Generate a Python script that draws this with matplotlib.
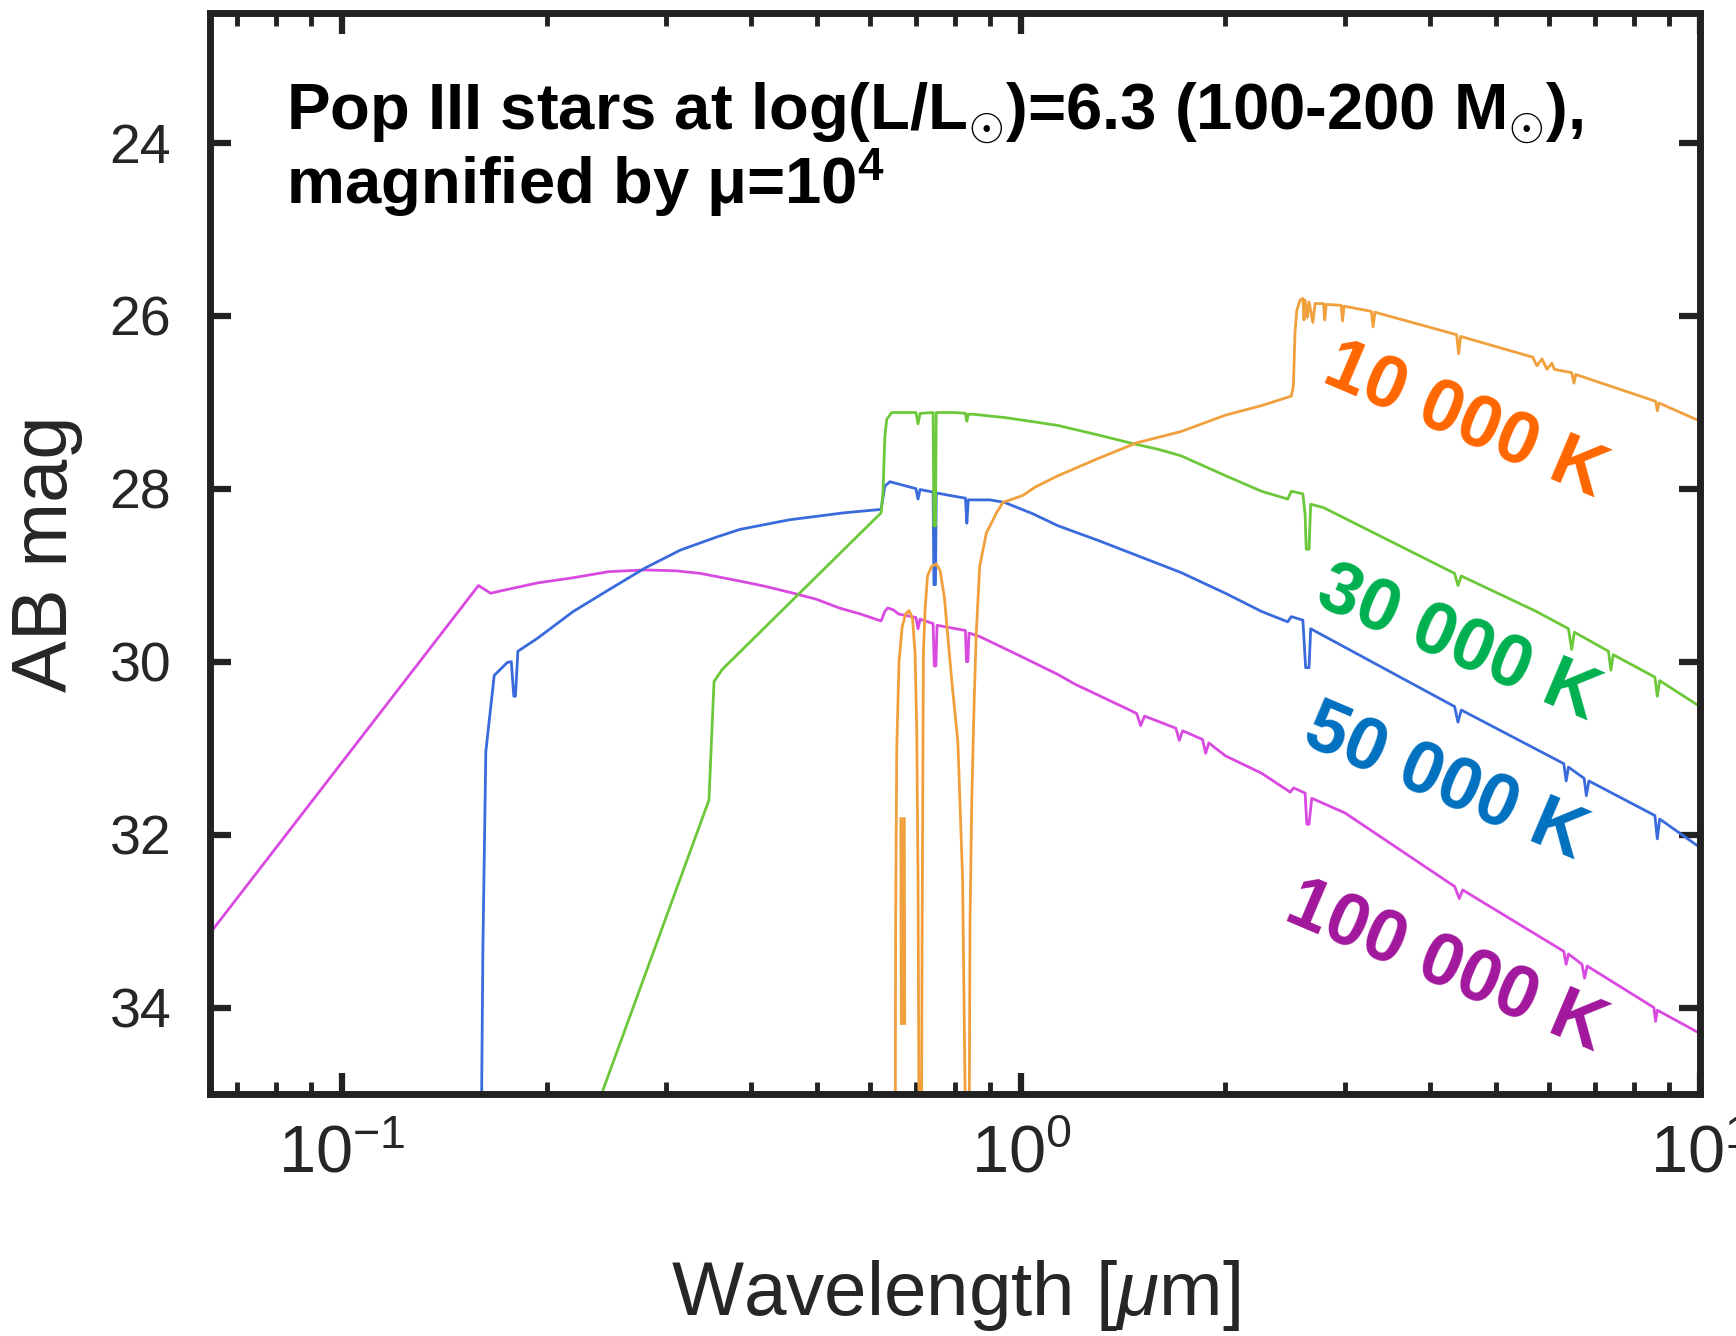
import numpy as np
import matplotlib
matplotlib.use('Agg')
import matplotlib.pyplot as plt
from matplotlib.ticker import LogLocator, FixedLocator

plt.rcParams['font.family'] = ['Liberation Sans', 'DejaVu Sans']
plt.rcParams['mathtext.fontset'] = 'custom'
plt.rcParams['mathtext.rm'] = 'Liberation Sans'
plt.rcParams['mathtext.it'] = 'Liberation Sans:italic'
plt.rcParams['mathtext.bf'] = 'Liberation Sans:bold'
plt.rcParams['axes.unicode_minus'] = False

# --- data (wavelength in micron, AB mag) ---
wl_100k = [0.0639, 0.1588, 0.1655, 0.1718, 0.194, 0.219, 0.247, 0.279, 0.31, 0.337, 0.386, 0.42,
           0.457, 0.50, 0.540, 0.58, 0.622, 0.630, 0.636, 0.648, 0.660, 0.700, 0.705, 0.710,
           0.742, 0.745, 0.749, 0.752, 0.828, 0.831, 0.835, 0.838, 0.869, 1.0,
           1.134, 1.2, 1.445, 1.48, 1.50, 1.52, 1.69, 1.71, 1.73, 1.85, 1.87, 1.89, 2.0,
           2.26, 2.47, 2.49, 2.52, 2.62, 2.635, 2.655, 2.68, 3.0,
           4.35, 4.42, 4.47, 6.3, 6.35, 6.4, 6.7, 6.76, 6.82, 8.55, 8.6, 8.65, 10.0]
mag_100k = [33.14, 29.12, 29.21, 29.18, 29.09, 29.03, 28.96, 28.94, 28.95, 28.98, 29.07, 29.13,
            29.20, 29.28, 29.38, 29.45, 29.53, 29.42, 29.38, 29.40, 29.45, 29.49, 29.62, 29.51,
            29.56, 30.05, 30.05, 29.58, 29.64, 30.00, 30.00, 29.67, 29.71, 29.94,
            30.15, 30.26, 30.56, 30.60, 30.74, 30.63, 30.77, 30.91, 30.80, 30.90, 31.06, 30.94, 31.09,
            31.29, 31.49, 31.51, 31.46, 31.52, 31.88, 31.88, 31.58, 31.75,
            32.60, 32.74, 32.64, 33.35, 33.50, 33.38, 33.50, 33.66, 33.52, 34.00, 34.16, 34.03, 34.30]

wl_50k = [0.1603, 0.1612, 0.1628, 0.1675, 0.1751, 0.1775, 0.1790, 0.1800, 0.1815,
          0.194, 0.219, 0.247, 0.279, 0.315, 0.356, 0.386, 0.456, 0.548, 0.622, 0.630, 0.641,
          0.700, 0.705, 0.710, 0.742, 0.744, 0.748, 0.750, 0.80, 0.828, 0.832, 0.836, 0.90,
          0.946, 1.04, 1.134, 1.3, 1.445, 1.72, 2.0, 2.26, 2.47, 2.50, 2.60, 2.625, 2.655, 2.67,
          4.35, 4.40, 4.45, 6.30, 6.35, 6.40, 6.75, 6.80, 6.86, 8.58, 8.65, 8.72, 10.0]
mag_50k = [35.5, 33.3, 31.04, 30.16, 30.01, 30.00, 30.40, 30.40, 29.88,
           29.73, 29.42, 29.17, 28.92, 28.71, 28.56, 28.47, 28.36, 28.28, 28.24, 27.97, 27.92,
           28.00, 28.12, 28.01, 28.04, 29.11, 29.11, 28.05, 28.09, 28.11, 28.40, 28.13, 28.13,
           28.16, 28.29, 28.43, 28.60, 28.74, 28.97, 29.21, 29.42, 29.54, 29.48, 29.52, 30.07, 30.07, 29.62,
           30.52, 30.70, 30.56, 31.18, 31.38, 31.22, 31.35, 31.55, 31.38, 31.78, 32.05, 31.82, 32.15]

wl_30k = [0.236, 0.241, 0.347, 0.350, 0.353, 0.363, 0.473, 0.622, 0.626, 0.630, 0.634, 0.645,
          0.700, 0.705, 0.710, 0.742, 0.744, 0.748, 0.750, 0.80, 0.828, 0.832, 0.836, 0.85,
          0.95, 1.05, 1.134, 1.3, 1.445, 1.6, 1.72, 2.0, 2.26, 2.47, 2.50, 2.60, 2.62, 2.63, 2.655,
          2.67, 2.79, 4.35, 4.40, 4.45, 5.74, 6.40, 6.47, 6.53, 7.33, 7.39, 7.45, 8.58, 8.65, 8.72, 10.0]
mag_30k = [35.3, 35.0, 31.60, 30.90, 30.23, 30.09, 29.20, 28.28, 28.05, 27.40, 27.20, 27.12,
           27.12, 27.25, 27.13, 27.12, 28.43, 28.43, 27.12, 27.12, 27.13, 27.22, 27.14, 27.14,
           27.18, 27.23, 27.27, 27.38, 27.47, 27.55, 27.62, 27.85, 28.03, 28.12, 28.03, 28.06, 28.30,
           28.70, 28.70, 28.18, 28.22, 28.98, 29.12, 29.01, 29.42, 29.62, 29.86, 29.66, 29.88, 30.10,
           29.92, 30.18, 30.40, 30.22, 30.52]

# nan breaks the 10 000 K spectrum where it drops out of the plot
wl_10k = [0.6525, 0.6535, 0.656, 0.661, 0.668, 0.676, 0.684, 0.692, 0.698, 0.702, 0.705, 0.708,
          0.713, 0.715, 0.718, 0.722, 0.728, 0.738, 0.750, 0.760, 0.771, 0.790, 0.807, 0.820, 0.830,
          0.838, 0.841, 0.846, 0.853, 0.859, 0.869, 0.889, 0.90, 0.92, 0.94, 1.005, 1.05, 1.134,
          1.3, 1.48, 1.72, 2.0, 2.26,
          2.50, 2.518, 2.532, 2.547, 2.576, 2.600, 2.610, 2.620, 2.640, 2.655, 2.690, 2.710,
          2.790, 2.800, 2.815, 2.96, 2.975, 2.99, 3.28, 3.30, 3.32, 4.38, 4.41, 4.44,
          5.67, 5.75, 5.85, 5.95, 6.05, 6.10, 6.47, 6.52, 6.56, 8.6, 8.65, 8.7, 10.0]
mag_10k = [36.0, 33.0, 31.0, 30.0, 29.6, 29.45, 29.41, 29.5, 29.9, 30.8, 32.5, 36.0,
           36.0, 33.0, 29.9, 29.4, 29.01, 28.90, 28.87, 28.95, 29.26, 30.2, 30.93, 32.5, 36.0,
           36.0, 33.0, 31.6, 30.44, 29.67, 28.90, 28.51, 28.43, 28.28, 28.16, 28.08, 27.98, 27.85,
           27.65, 27.47, 27.34, 27.15, 27.04,
           26.93, 26.81, 26.19, 25.94, 25.82, 25.80, 26.05, 25.82, 26.02, 25.84, 26.08, 25.86,
           25.86, 26.05, 25.87, 25.88, 26.06, 25.89, 25.95, 26.13, 25.96, 26.22, 26.44, 26.24,
           26.48, 26.58, 26.50, 26.62, 26.55, 26.62, 26.66, 26.78, 26.68, 26.99, 27.10, 27.01, 27.22]
# dense line forest drawn as a thick bar
wl_10k_forest = [0.669, 0.670]
mag_10k_forest = [31.8, 34.2]

labels = ['10 000 K', '30 000 K', '50 000 K', '100 000 K']
label_wl = [4.51, 4.41, 4.22, 4.23]
label_mag = [27.22, 29.80, 31.40, 33.53]
label_colors = ['#ff6600', '#00b050', '#0070c0', '#a2179c']

fig = plt.figure(figsize=(17.36, 13.36), dpi=100)
ax = fig.add_axes([0.121, 0.1811, 0.8583, 0.8092])

ax.plot(wl_100k, mag_100k, color='#d94ae0', lw=2)
ax.plot(wl_50k, mag_50k, color='#3a6bdc', lw=2)
ax.plot(wl_30k, mag_30k, color='#6cc83a', lw=2)
ax.plot(wl_10k, mag_10k, color='#f0a03c', lw=2)
ax.plot(wl_10k_forest, mag_10k_forest, color='#f0a03c', lw=4.5, solid_capstyle='butt')

ax.set_xscale('log')
ax.set_xlim(0.0639, 10)
ax.set_ylim(35, 22.5)
ax.yaxis.set_major_locator(FixedLocator([24, 26, 28, 30, 32, 34]))
ax.xaxis.set_minor_locator(LogLocator(base=10, subs=np.arange(2, 10)))

for s in ax.spines.values():
    s.set_linewidth(5)
    s.set_color('#222222')
ax.tick_params(which='major', direction='in', top=True, right=True, length=15, width=4.5,
               color='#222222', labelcolor='#262626')
ax.tick_params(which='minor', direction='in', top=True, right=True, length=9, width=3.5,
               color='#222222')
ax.tick_params(axis='x', which='major', pad=22, labelsize=48)
ax.tick_params(axis='y', which='major', pad=28, labelsize=40)

ax.set_xlabel('Wavelength [$\\mu$m]', fontsize=55, color='#262626')
ax.set_ylabel('AB mag', fontsize=56, color='#262626')
ax.xaxis.set_label_coords(0.5, -0.152)
ax.yaxis.set_label_coords(-0.085, 0.5)

ax.text(0.051, 0.891, 'Pop III stars at log(L/L$_{\\odot}$)=6.3 (100-200 M$_{\\odot}$),',
        transform=ax.transAxes, fontsize=47, fontweight='bold', va='baseline')
ax.text(0.051, 0.823, 'magnified by μ=10$^{\\mathbf{4}}$',
        transform=ax.transAxes, fontsize=47, fontweight='bold', va='baseline')

for lab, x, y, c in zip(labels, label_wl, label_mag, label_colors):
    ax.text(x, y, lab, color=c, fontsize=53, fontweight='bold', rotation=-23,
            ha='center', va='center', rotation_mode='anchor')

fig.savefig('out.png', dpi=100)
